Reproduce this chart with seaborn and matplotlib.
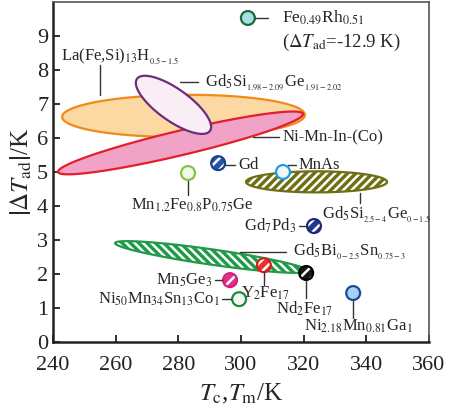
import numpy as np
import pandas as pd
import matplotlib
matplotlib.use("Agg")
import matplotlib.pyplot as plt
import seaborn as sns

# single materials: transition temperature (K) and |dT_ad| (K)
point_names = ["FeRh", "Gd", "MnAs", "MnFePGe", "Gd7Pd3", "Y2Fe17",
               "Nd2Fe17", "Mn5Ge3", "NiMnSnCo", "NiMnGa"]
point_T = [302.2, 292.7, 313.4, 283.1, 323.3, 307.3, 320.8, 296.5, 299.4, 335.8]
point_dT = [9.53, 5.26, 5.0, 4.97, 3.41, 2.26, 2.03, 1.82, 1.26, 1.44]
point_hatched = [False, True, False, False, True, True, True, True, False, False]
point_face = ["#a8dce6", "#2453a8", "#eef8fc", "#f2f9ea", "#26368c", "#e8322c",
              "#161616", "#e0308c", "#f4f8f0", "#a8cff4"]
point_edge = ["#1b6b3a", "#1a3f8f", "#1ea0dc", "#86c440", "#1c2a78", "#d02020",
              "#000000", "#d0207c", "#1a8a3c", "#1a4a9a"]

# material families drawn as ranges: both tips (T, dT) and band thickness in K
band_names = ["LaFeSiH", "NiMnInCo", "Gd5Si2Ge2", "Gd5SiGe", "Gd5BiSn"]
band_T0 = [242.9, 241.6, 266.8, 301.6, 259.8]
band_dT0 = [6.62, 5.0, 7.74, 4.71, 2.91]
band_T1 = [320.4, 319.8, 290.1, 346.6, 321.4]
band_dT1 = [6.68, 6.71, 6.21, 4.71, 2.09]
band_width = [1.24, 0.72, 0.94, 0.62, 0.45]
band_face = ["#fcd9a2", "#f0a3c6", "#f9eef5", "#6e6e12", "#1f9a48"]
band_edge = ["#f08a1a", "#e41e2a", "#6b2d7c", "#6e6e12", "#1f9a48"]
band_hatch = [None, None, None, "////", "\\\\\\\\"]

sns.set_style("ticks")
plt.rcParams["font.family"] = ["Liberation Serif", "DejaVu Serif"]
plt.rcParams["mathtext.fontset"] = "stix"
plt.rcParams["hatch.linewidth"] = 1.8

fig, ax = plt.subplots(figsize=(4.5, 4.07), dpi=100)
fig.subplots_adjust(left=0.1178, right=0.9533, bottom=0.1597, top=0.9951)
ax.set_xlim(240, 360)
ax.set_ylim(0, 10)


def draw_band(ax, t0, d0, t1, d1, width, face, edge, hatch, z):
    tr = ax.transData
    p0 = tr.transform((t0, d0))
    p1 = tr.transform((t1, d1))
    py = tr.transform((0, width))[1] - tr.transform((0, 0))[1]
    c = (p0 + p1) / 2
    u = (p1 - p0) / np.linalg.norm(p1 - p0)
    n = np.array([-u[1], u[0]])
    a = np.linalg.norm(p1 - p0) / 2
    b = py / 2
    th = np.linspace(0, 2 * np.pi, 240)
    pts = c + np.outer(a * np.cos(th), u) + np.outer(b * np.sin(th), n)
    xy = tr.inverted().transform(pts)
    if hatch:
        ax.fill(xy[:, 0], xy[:, 1], facecolor=face, edgecolor="white",
                hatch=hatch, linewidth=0, zorder=z)
    else:
        ax.fill(xy[:, 0], xy[:, 1], facecolor=face, linewidth=0, zorder=z)
    ax.plot(xy[:, 0], xy[:, 1], color=edge, lw=1.6, zorder=z)


for i in range(len(band_names)):
    draw_band(ax, band_T0[i], band_dT0[i], band_T1[i], band_dT1[i], band_width[i],
              band_face[i], band_edge[i], band_hatch[i], 1 + i)

pts = pd.DataFrame({"name": point_names, "T": point_T, "dT": point_dT,
                    "hatched": point_hatched})
sns.scatterplot(data=pts, x="T", y="dT", hue="name",
                palette=dict(zip(point_names, point_face)), s=100,
                linewidth=0, legend=False, ax=ax, zorder=8)
hat = pts[pts["hatched"]]
ax.scatter(hat["T"], hat["dT"], s=100, facecolors="none", edgecolors="white",
           linewidths=0, hatch="///", zorder=9)
ax.scatter(pts["T"], pts["dT"], s=100, facecolors="none", edgecolors=point_edge,
           linewidths=1.6, zorder=10)

# labels for single points: text, text offset, ha, leader start/end (pixels)
lab_fs = 12
point_labels = {
    "FeRh": (r"Fe$_{0.49}$Rh$_{0.51}$", (34, 0), "left", ((7, 0), (20, 0))),
    "Gd": ("Gd", (20, -2), "left", ((7, -2), (17, -2))),
    "MnAs": ("MnAs", (16, 7), "left", ((5, 7), (13, 7))),
    "MnFePGe": (r"Mn$_{1.2}$Fe$_{0.8}$P$_{0.75}$Ge", (4, -32), "center", ((0, -8), (0, -22))),
    "Gd7Pd3": (r"Gd$_7$Pd$_3$", (-18, 0), "right", ((-15, 0), (-7, 0))),
    "Y2Fe17": (r"Y$_2$Fe$_{17}$", (2, -28), "center", ((0, -7), (0, -20))),
    "Nd2Fe17": (r"Nd$_2$Fe$_{17}$", (-2, -36), "center", ((0, -8), (0, -25))),
    "NiMnGa": (r"Ni$_{2.18}$Mn$_{0.81}$Ga$_1$", (5, -33), "center", ((0, -8), (0, -25))),
    "Mn5Ge3": (r"Mn$_5$Ge$_3$", (-17, 0), "right", ((-15, 0), (-8, 0))),
    "NiMnSnCo": (r"Ni$_{50}$Mn$_{34}$Sn$_{13}$Co$_1$", (-19, 0), "right", ((-17, 0), (-8, 0))),
}
for name, t, d in zip(point_names, point_T, point_dT):
    text, off, ha, (l0, l1) = point_labels[name]
    fs = 12.5 if name == "FeRh" else lab_fs
    ax.annotate(text, xy=(t, d), xytext=off, textcoords="offset pixels",
                ha=ha, va="center", fontsize=fs, zorder=12)
    # leader as a segment between two pixel offsets from the point
    p = ax.transData.transform((t, d))
    q0 = ax.transData.inverted().transform(p + np.array(l0))
    q1 = ax.transData.inverted().transform(p + np.array(l1))
    ax.plot([q0[0], q1[0]], [q0[1], q1[1]], color="#333333", lw=1.0, zorder=11)

ax.annotate(r"($\Delta T_{\rm ad}$=-12.9 K)", xy=(point_T[0], point_dT[0]),
            xytext=(34, -24), textcoords="offset pixels", ha="left", va="center",
            fontsize=13.5)

# labels for the ranges
band_labels = [
    (r"La(Fe,Si)$_{13}$H$_{_{0.5-1.5}}$", (242.6, 8.38), ((255.0, 8.15), (255.0, 7.26))),
    (r"Gd$_5$Si$_{_{1.98-2.09}}$Ge$_{_{1.91-2.02}}$", (288.5, 7.65), ((280.5, 7.65), (286.3, 7.65))),
    ("Ni-Mn-In-(Co)", (313.1, 6.03), ((303.8, 6.03), (312.1, 6.03))),
    (r"Gd$_5$Si$_{_{2.5-4}}$Ge$_{_{0-1.5}}$", (325.9, 3.74), ((338.0, 4.38), (338.0, 4.09))),
    (r"Gd$_5$Bi$_{_{0-2.5}}$Sn$_{_{0.75-3}}$", (316.6, 2.65), ((299.7, 2.65), (314.3, 2.65))),
]
for text, (tx, ty), ((x0, y0), (x1, y1)) in band_labels:
    ax.text(tx, ty, text, ha="left", va="center", fontsize=lab_fs, zorder=12)
    ax.plot([x0, x1], [y0, y1], color="#333333", lw=1.0, zorder=11)

ax.set_xticks(np.arange(240, 361, 20))
ax.set_yticks(np.arange(0, 10, 1))
ax.tick_params(direction="in", length=5, width=1.3, labelsize=16, colors="#222222")
ax.tick_params(axis="x", pad=10)
for side in ["left", "bottom"]:
    ax.spines[side].set_linewidth(1.8)
    ax.spines[side].set_color("#222222")
for side in ["top", "right"]:
    ax.spines[side].set_linewidth(1.2)
    ax.spines[side].set_color("#555555")

ax.set_xlabel(r"$T_{\rm c}$,$T_{\rm m}$/K", fontsize=18, labelpad=5)
ax.set_ylabel(r"$\left|\Delta T_{\rm ad}\right|$/K", fontsize=18, labelpad=2)

fig.savefig("out.png", dpi=100)
